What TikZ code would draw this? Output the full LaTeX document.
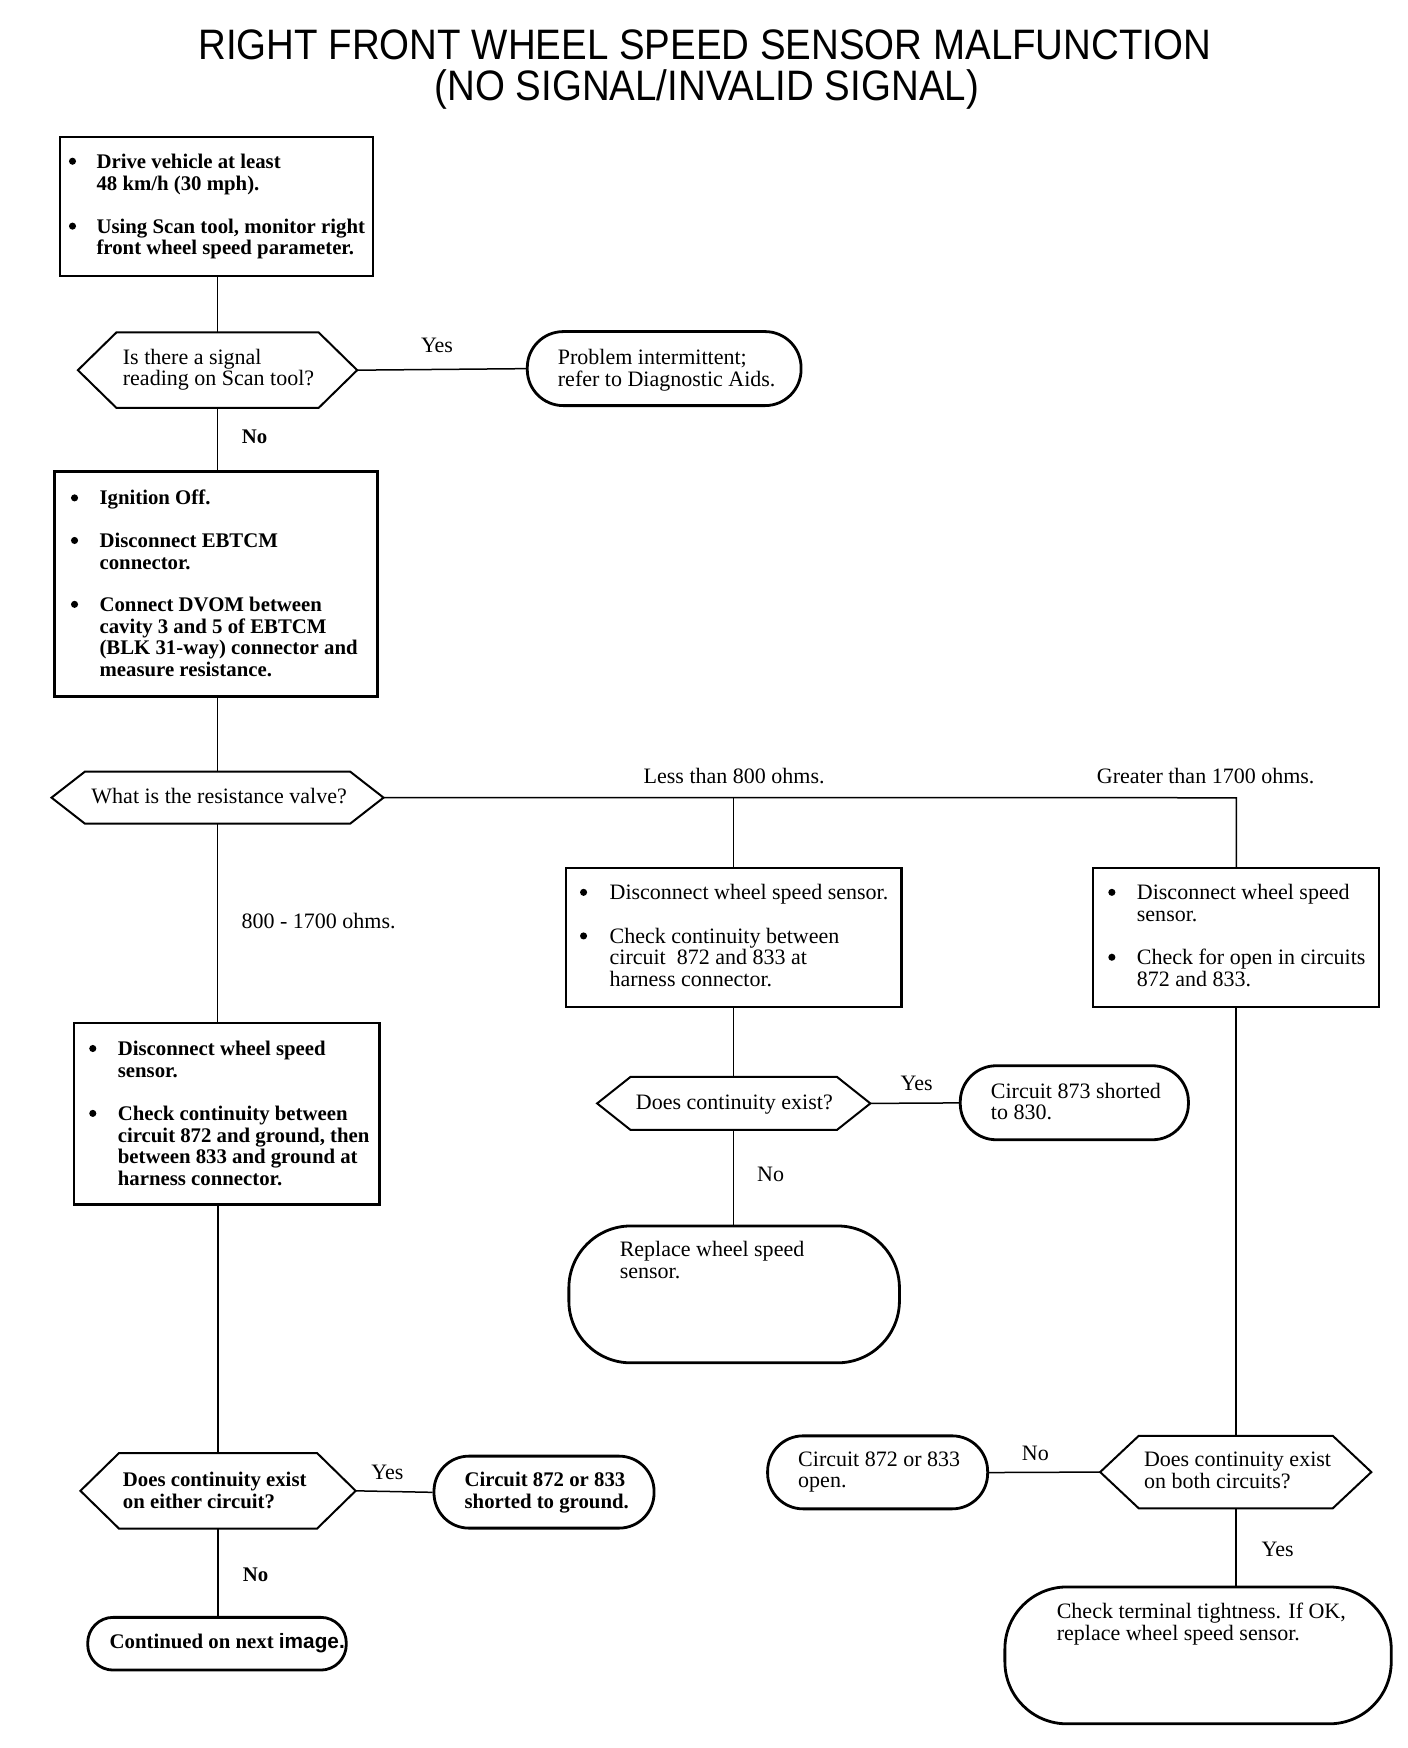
\documentclass[tikz,border=0pt]{standalone}
\usepackage{fontspec}
\setmainfont{Liberation Serif}
\setsansfont{Liberation Sans}
\newfontfamily\titlefont[FakeStretch=0.903]{Liberation Sans}
\usetikzlibrary{calc}
\newcommand\ml[1]{\begin{tabular}[t]{@{}l@{}}#1\end{tabular}}
\newcommand\hexnode[6]{%
  \node[hexbase, minimum width=#4pt, minimum height=#5pt] (#1) at (#2,#3) {};
  \draw[hexline] (#1.west) -- ([xshift=#6pt]#1.north west) -- ([xshift=-#6pt]#1.north east)
    -- (#1.east) -- ([xshift=-#6pt]#1.south east) -- ([xshift=#6pt]#1.south west) -- cycle;}
\begin{document}
\begin{tikzpicture}[x=1pt,y=-1pt,
  box/.style={draw, line width=2.6pt, inner sep=0pt},
  term/.style={draw, line width=2.8pt, inner sep=0pt},
  hexbase/.style={draw=none, inner sep=0pt},
  hexline/.style={line width=2pt, line join=miter},
  conn/.style={line width=1.5pt},
  txt/.style={anchor=base west, inner sep=0pt, font=\fontsize{21.7}{21.4}\selectfont},
  btxt/.style={txt, font=\fontsize{20.5}{21.4}\selectfont\bfseries},
  lbl/.style={anchor=base, inner sep=0pt, font=\fontsize{21.7}{21.4}\selectfont},
  blbl/.style={lbl, font=\fontsize{20.5}{21.4}\selectfont\bfseries},
  bul/.style={circle, fill, draw=none, inner sep=0pt, minimum size=7pt}
]
\useasboundingbox (0,0) rectangle (1408,1748);
\fill[white] (0,0) rectangle (1408,1748);
\begin{scope}[scale=1.014, transform shape]
% Title
\node[anchor=base, inner sep=0pt, font=\titlefont\fontsize{42}{42}\selectfont] (title1) at (695,59) {RIGHT FRONT WHEEL SPEED SENSOR MALFUNCTION};
\node[anchor=base, inner sep=0pt, font=\titlefont\fontsize{42}{42}\selectfont] (title2) at (697,99) {(NO SIGNAL/INVALID SIGNAL)};

% Box 1
\node[box, minimum width=309pt, minimum height=137pt] (b1) at (213.5,203.5) {};
\node[bul] (b1u1) at (71.5,159) {};
\node[btxt] (b1t1) at (95,166) {\ml{Drive vehicle at least\\48 km/h (30 mph).}};
\node[bul] (b1u2) at (71.5,223) {};
\node[btxt] (b1t2) at (95,230) {\ml{Using Scan tool, monitor right\\front wheel speed parameter.}};

% Decision 1
\hexnode{d1}{214.5}{365}{275}{74}{38}
\node[txt] (d1t) at (121,359) {\ml{Is there a signal\\reading on Scan tool?}};

% Terminal 1
\node[term, minimum width=270pt, minimum height=73pt, rounded corners=36pt] (t1) at (655,363.5) {};
\node[txt] (t1t) at (550,359) {\ml{Problem intermittent;\\refer to Diagnostic Aids.}};

% Box 2
\node[box, minimum width=318pt, minimum height=222pt] (b2) at (213,576) {};
\node[bul] (b2u1) at (73.5,491) {};
\node[btxt] (b2t1) at (98,498) {Ignition Off.};
\node[bul] (b2u2) at (73.5,533) {};
\node[btxt] (b2t2) at (98,540) {\ml{Disconnect EBTCM\\connector.}};
\node[bul] (b2u3) at (73.5,596) {};
\node[btxt] (b2t3) at (98,603) {\ml{Connect DVOM between\\cavity 3 and 5 of EBTCM\\(BLK 31-way) connector and\\measure resistance.}};

% Decision 2
\hexnode{d2}{214.5}{786.5}{327}{51}{33}
\node[txt] (d2t) at (90,792) {What is the resistance valve?};

% Box 3
\node[box, minimum width=331pt, minimum height=137pt] (b3) at (723.5,924.5) {};
\node[bul] (b3u1) at (575.5,880) {};
\node[txt] (b3t1) at (601,887) {Disconnect wheel speed sensor.};
\node[bul] (b3u2) at (575.5,923) {};
\node[txt] (b3t2) at (601,930) {\ml{Check continuity between\\circuit\ \ 872 and 833 at\\harness connector.}};

% Box 4
\node[box, minimum width=282pt, minimum height=137pt] (b4) at (1219,924.5) {};
\node[bul] (b4u1) at (1096.5,880) {};
\node[txt] (b4t1) at (1121,887) {\ml{Disconnect wheel speed\\sensor.}};
\node[bul] (b4u2) at (1096.5,944) {};
\node[txt] (b4t2) at (1121,951) {\ml{Check for open in circuits\\872 and 833.}};

% Decision 3
\hexnode{d3}{723.5}{1088}{269}{52}{33}
\node[txt] (d3t) at (627,1094) {Does continuity exist?};

% Terminal 2
\node[term, minimum width=225pt, minimum height=73pt, rounded corners=36pt] (t2) at (1059.5,1087.5) {};
\node[txt] (t2t) at (977,1083) {\ml{Circuit 873 shorted\\to 830.}};

% Terminal 3
\node[term, minimum width=326pt, minimum height=135pt, rounded corners=62pt] (t3) at (724,1276.5) {};
\node[txt] (t3t) at (611,1239) {\ml{Replace wheel speed\\sensor.}};

% Box 5
\node[box, minimum width=301pt, minimum height=179pt] (b5) at (223.5,1098.5) {};
\node[bul] (b5u1) at (91.5,1034) {};
\node[btxt] (b5t1) at (116,1041) {\ml{Disconnect wheel speed\\sensor.}};
\node[bul] (b5u2) at (91.5,1098) {};
\node[btxt] (b5t2) at (116,1105) {\ml{Check continuity between\\circuit 872 and ground, then\\between 833 and ground at\\harness connector.}};

% Decision 4
\hexnode{d4}{215}{1470}{271}{74}{38}
\node[btxt] (d4t) at (121,1466) {\ml{Does continuity exist\\on either circuit?}};

% Terminal 4
\node[term, minimum width=217pt, minimum height=71pt, rounded corners=35pt] (t4) at (536.5,1471.5) {};
\node[btxt] (t4t) at (458,1466) {\ml{Circuit 872 or 833\\shorted to ground.}};

% Terminal 5
\node[term, minimum width=255pt, minimum height=52pt, rounded corners=25.5pt] (t5) at (214,1621) {};
\node[btxt] (t5t) at (108,1626) {Continued on next {\sffamily image.}};

% Decision 5
\hexnode{d5}{1218.5}{1451.5}{267}{71}{38}
\node[txt] (d5t) at (1128,1446) {\ml{Does continuity exist\\on both circuits?}};

% Terminal 6
\node[term, minimum width=217pt, minimum height=72pt, rounded corners=35.5pt] (t6) at (865.5,1452) {};
\node[txt] (t6t) at (787,1446) {\ml{Circuit 872 or 833\\open.}};

% Terminal 7
\node[term, minimum width=381pt, minimum height=135pt, rounded corners=62pt] (t7) at (1181.5,1632.5) {};
\node[txt] (t7t) at (1042,1596) {\ml{Check terminal tightness. If OK,\\replace wheel speed sensor.}};

% Connectors
\draw[conn] (d1.north |- b1.south) -- (d1.north);
\draw[conn] (d1.east) -- (t1.west);
\draw[conn] (d1.south) -- (b2.north -| d1.south);
\draw[conn] (d2.north |- b2.south) -- (d2.north);
\coordinate (rc) at (b4.north |- d2.east);
\draw[conn] (d2.east) -- (rc) -- (b4.north);
\draw[conn] (b3.north |- d2.east) -- (b3.north);
\draw[conn] (d2.south) -- (b5.north -| d2.south);
\draw[conn] (d3.north |- b3.south) -- (d3.north);
\draw[conn] (d3.east) -- (t2.west);
\draw[conn] (d3.south) -- (t3.north -| d3.south);
\draw[conn] (d4.north |- b5.south) -- (d4.north);
\draw[conn] (d4.east) -- (t4.west);
\draw[conn] (d4.south) -- (t5.north -| d4.south);
\draw[conn] (d5.north |- b4.south) -- (d5.north);
\draw[conn] (d5.west) -- (t6.east);
\draw[conn] (d5.south) -- (t7.north -| d5.south);

% Labels
\node[lbl] (l1) at (431,348) {Yes};
\node[blbl] (l2) at (251,437) {No};
\node[lbl] (l3) at (724,773) {Less than 800 ohms.};
\node[lbl] (l4) at (1189,773) {Greater than 1700 ohms.};
\node[txt] (l5) at (238,916) {800 - 1700 ohms.};
\node[lbl] (l6) at (904,1075) {Yes};
\node[lbl] (l7) at (760,1165) {No};
\node[lbl] (l8) at (382,1459) {Yes};
\node[blbl] (l9) at (252,1560) {No};
\node[lbl] (l10) at (1021,1440) {No};
\node[lbl] (l11) at (1260,1535) {Yes};
\end{scope}
\end{tikzpicture}
\end{document}
